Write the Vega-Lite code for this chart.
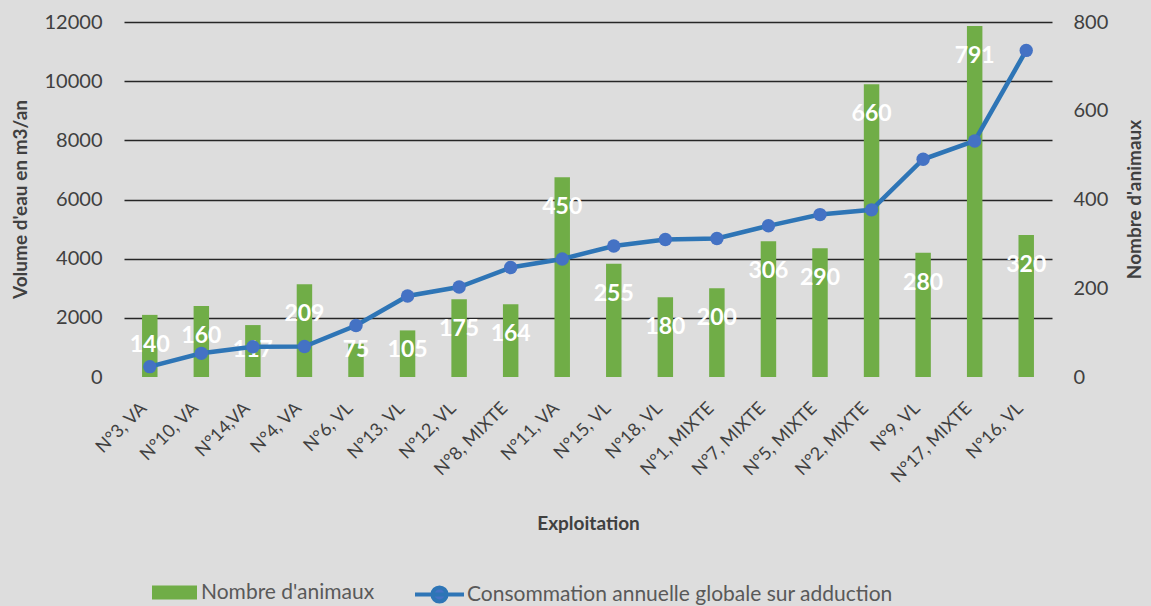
{
  "$schema": "https://vega.github.io/schema/vega-lite/v6.json",
  "width": 928,
  "height": 355,
  "autosize": {"type": "none"},
  "padding": {"left": 124, "top": 22, "right": 99, "bottom": 229},
  "background": "#dddddd",
  "config": {
    "font": "Lato",
    "view": {"stroke": null},
    "axis": {"labelFont": "Lato", "titleFont": "Lato", "labelColor": "#404040", "titleColor": "#404040", "domain": false, "ticks": false}
  },
  "data": {
    "values": [
      {"ex": "N°3, VA", "animaux": 140, "conso": 350},
      {"ex": "N°10, VA", "animaux": 160, "conso": 800},
      {"ex": "N°14,VA", "animaux": 117, "conso": 1020},
      {"ex": "N°4, VA", "animaux": 209, "conso": 1030},
      {"ex": "N°6, VL", "animaux": 75, "conso": 1740},
      {"ex": "N°13, VL", "animaux": 105, "conso": 2740},
      {"ex": "N°12, VL", "animaux": 175, "conso": 3040},
      {"ex": "N°8, MIXTE", "animaux": 164, "conso": 3700},
      {"ex": "N°11, VA", "animaux": 450, "conso": 3990},
      {"ex": "N°15, VL", "animaux": 255, "conso": 4430},
      {"ex": "N°18, VL", "animaux": 180, "conso": 4650},
      {"ex": "N°1, MIXTE", "animaux": 200, "conso": 4680},
      {"ex": "N°7, MIXTE", "animaux": 306, "conso": 5110},
      {"ex": "N°5, MIXTE", "animaux": 290, "conso": 5490},
      {"ex": "N°2, MIXTE", "animaux": 660, "conso": 5650},
      {"ex": "N°9, VL", "animaux": 280, "conso": 7360},
      {"ex": "N°17, MIXTE", "animaux": 791, "conso": 7980},
      {"ex": "N°16, VL", "animaux": 320, "conso": 11040}
    ]
  },
  "encoding": {
    "x": {
      "field": "ex",
      "type": "nominal",
      "sort": null,
      "scale": {"paddingInner": 0.7, "paddingOuter": 0.35},
      "axis": {
        "title": "Exploitation",
        "labelAngle": -45,
        "labelFontSize": 18,
        "labelPadding": 22,
        "labelOffset": -12,
        "titleFontSize": 19,
        "titleFontWeight": "bold",
        "titlePadding": 28
      }
    }
  },
  "layer": [
    {
      "layer": [
        {
          "mark": {"type": "bar"},
          "encoding": {
            "y": {
              "field": "animaux",
              "type": "quantitative",
              "scale": {"domain": [0, 800], "nice": false},
              "axis": {
                "orient": "right",
                "title": "Nombre d'animaux",
                "values": [0, 200, 400, 600, 800],
                "grid": false,
                "labelFontSize": 20,
                "labelPadding": 21,
                "titleFontSize": 19,
                "titleFontWeight": "bold",
                "titleAngle": 270,
                "titleX": 82,
                "titleY": 177,
                "titleAlign": "center",
                "titleBaseline": "middle"
              }
            },
            "color": {
              "datum": "Nombre d'animaux",
              "scale": {"range": ["#70AD47"]},
              "legend": {
                "orient": "none",
                "legendX": 28,
                "legendY": 548,
                "title": null,
                "padding": 0,
                "symbolType": "M-1,-0.31H1V0.31H-1Z",
                "symbolSize": 2025,
                "symbolStrokeWidth": 0,
                "labelFontSize": 21,
                "labelColor": "#595959",
                "labelFont": "Lato",
                "labelOffset": 4,
                "labelLimit": 600
              }
            }
          }
        },
        {
          "mark": {
            "type": "text",
            "color": "white",
            "fontWeight": "bold",
            "fontSize": 23,
            "baseline": "middle",
            "dy": {"expr": "min(30, datum.animaux * 0.4434 - 27)"}
          },
          "encoding": {
            "y": {"field": "animaux", "type": "quantitative"},
            "text": {"field": "animaux", "type": "quantitative"}
          }
        }
      ]
    },
    {
      "layer": [
        {
          "mark": {"type": "line", "strokeWidth": 4.5},
          "encoding": {
            "x": {"field": "ex", "type": "nominal", "sort": null, "bandPosition": 0.5},
            "y": {
              "field": "conso",
              "type": "quantitative",
              "scale": {"domain": [0, 12000], "nice": false},
              "axis": {
                "orient": "left",
                "title": "Volume d'eau en m3/an",
                "values": [0, 1000, 2000, 3000, 4000, 5000, 6000, 7000, 8000, 9000, 10000, 11000, 12000],
                "labelExpr": "datum.value % 2000 === 0 ? datum.value : ''",
                "labelFontSize": 20,
                "labelPadding": 22,
                "titleFontSize": 19,
                "titleFontWeight": "bold",
                "titleX": -104,
                "titleY": 177,
                "titleAlign": "center",
                "titleBaseline": "middle",
                "grid": true,
                "gridColor": {
                  "condition": [
                    {"test": "datum.value === 0", "value": "transparent"},
                    {"test": "datum.value % 2000 === 0", "value": "#262626"}
                  ],
                  "value": "#a6a6a6"
                },
                "gridWidth": 1.5
              }
            },
            "color": {
              "datum": "Consommation annuelle globale sur adduction",
              "scale": {"range": ["#2E75B6"]},
              "legend": {
                "orient": "none",
                "legendX": 289,
                "legendY": 546,
                "title": null,
                "padding": 0,
                "symbolType": "M-1,0L1,0M-0.29,0A0.29,0.29,0,1,1,0.29,0A0.29,0.29,0,1,1,-0.29,0Z",
                "symbolSize": 2401,
                "symbolStrokeWidth": 4,
                "labelFontSize": 21,
                "labelColor": "#595959",
                "labelFont": "Lato",
                "labelOffset": 1,
                "labelLimit": 600,
                "encode": {"symbols": {"update": {"fill": {"value": "#4472C4"}, "stroke": {"value": "#2E75B6"}}}}
              }
            }
          }
        },
        {
          "mark": {"type": "point", "filled": true, "size": 180, "color": "#4472C4", "opacity": 1},
          "encoding": {
            "x": {"field": "ex", "type": "nominal", "sort": null, "bandPosition": 0.5},
            "y": {"field": "conso", "type": "quantitative"}
          }
        }
      ]
    }
  ],
  "resolve": {"scale": {"y": "independent", "color": "independent"}}
}
